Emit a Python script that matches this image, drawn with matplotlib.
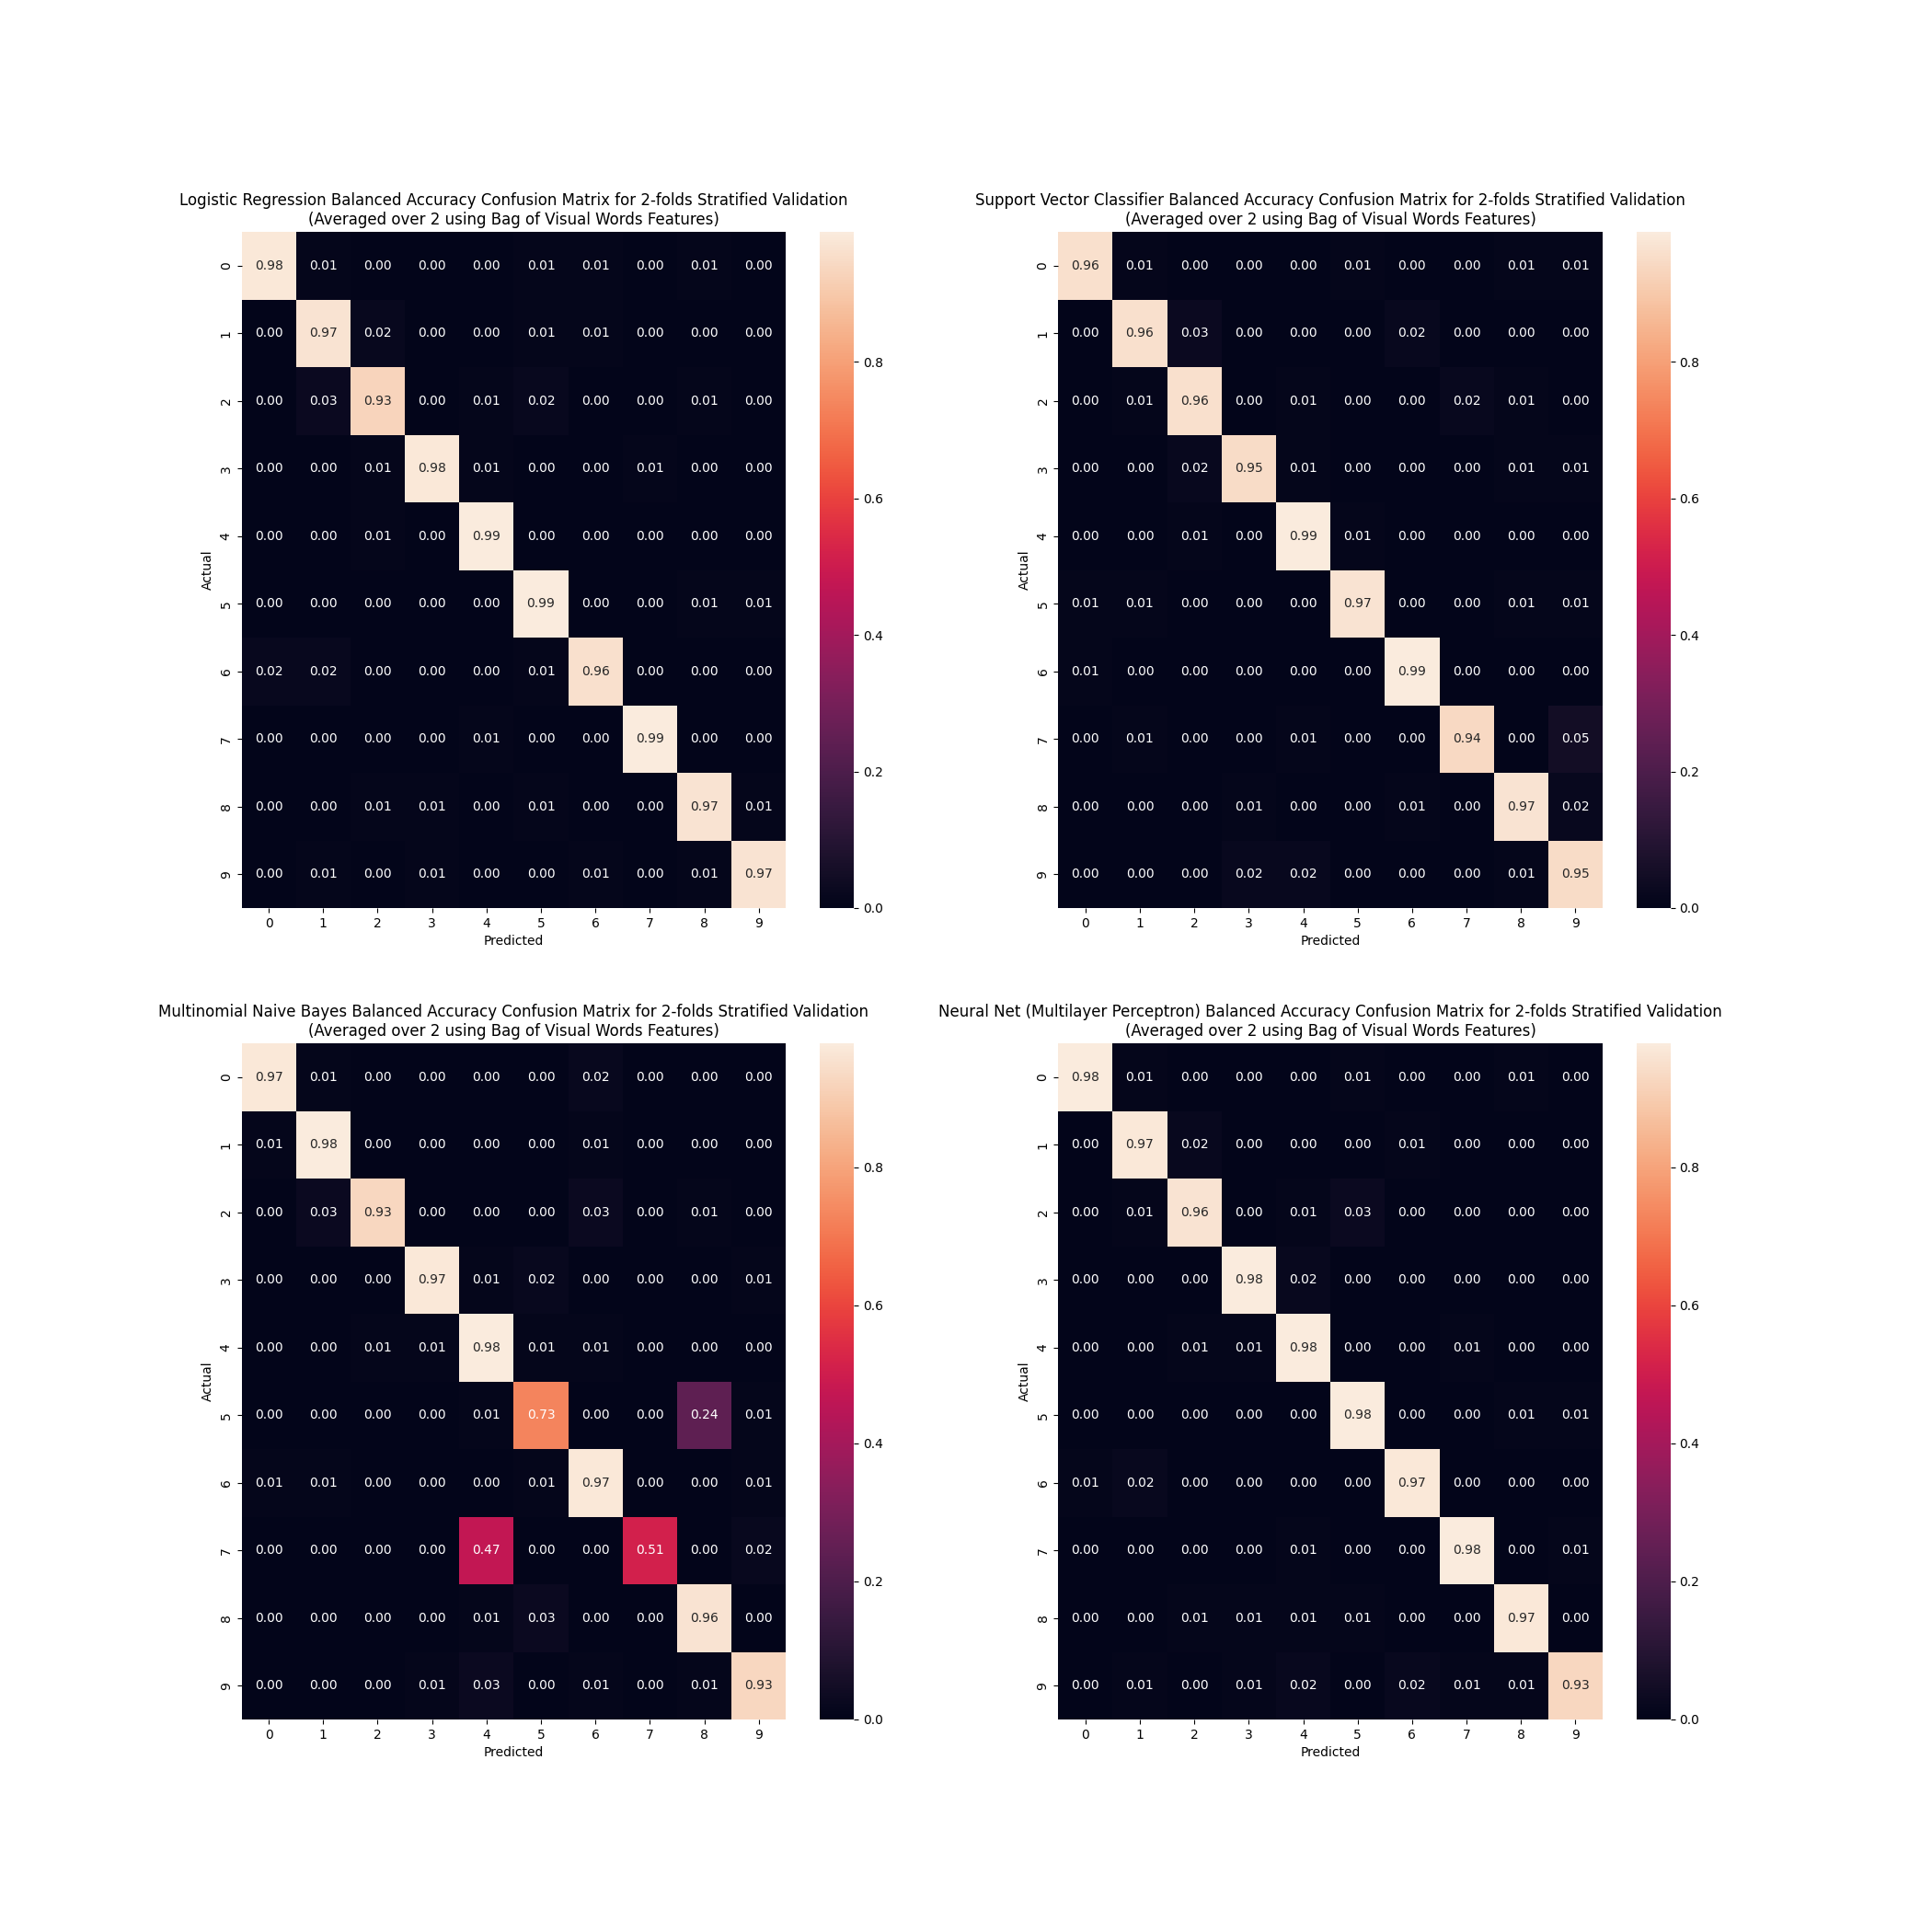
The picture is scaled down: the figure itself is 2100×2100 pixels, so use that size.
import matplotlib
matplotlib.use('Agg')
import matplotlib.pyplot as plt
import numpy as np
import seaborn as sns

classes = [str(i) for i in range(10)]

model_names = ['Logistic Regression',
               'Support Vector Classifier',
               'Multinomial Naive Bayes',
               'Neural Net (Multilayer Perceptron)']

logreg_cm = [
    [0.98, 0.01, 0.00, 0.00, 0.00, 0.01, 0.01, 0.00, 0.01, 0.00],
    [0.00, 0.97, 0.02, 0.00, 0.00, 0.01, 0.01, 0.00, 0.00, 0.00],
    [0.00, 0.03, 0.93, 0.00, 0.01, 0.02, 0.00, 0.00, 0.01, 0.00],
    [0.00, 0.00, 0.01, 0.98, 0.01, 0.00, 0.00, 0.01, 0.00, 0.00],
    [0.00, 0.00, 0.01, 0.00, 0.99, 0.00, 0.00, 0.00, 0.00, 0.00],
    [0.00, 0.00, 0.00, 0.00, 0.00, 0.99, 0.00, 0.00, 0.01, 0.01],
    [0.02, 0.02, 0.00, 0.00, 0.00, 0.01, 0.96, 0.00, 0.00, 0.00],
    [0.00, 0.00, 0.00, 0.00, 0.01, 0.00, 0.00, 0.99, 0.00, 0.00],
    [0.00, 0.00, 0.01, 0.01, 0.00, 0.01, 0.00, 0.00, 0.97, 0.01],
    [0.00, 0.01, 0.00, 0.01, 0.00, 0.00, 0.01, 0.00, 0.01, 0.97],
]

svc_cm = [
    [0.96, 0.01, 0.00, 0.00, 0.00, 0.01, 0.00, 0.00, 0.01, 0.01],
    [0.00, 0.96, 0.03, 0.00, 0.00, 0.00, 0.02, 0.00, 0.00, 0.00],
    [0.00, 0.01, 0.96, 0.00, 0.01, 0.00, 0.00, 0.02, 0.01, 0.00],
    [0.00, 0.00, 0.02, 0.95, 0.01, 0.00, 0.00, 0.00, 0.01, 0.01],
    [0.00, 0.00, 0.01, 0.00, 0.99, 0.01, 0.00, 0.00, 0.00, 0.00],
    [0.01, 0.01, 0.00, 0.00, 0.00, 0.97, 0.00, 0.00, 0.01, 0.01],
    [0.01, 0.00, 0.00, 0.00, 0.00, 0.00, 0.99, 0.00, 0.00, 0.00],
    [0.00, 0.01, 0.00, 0.00, 0.01, 0.00, 0.00, 0.94, 0.00, 0.05],
    [0.00, 0.00, 0.00, 0.01, 0.00, 0.00, 0.01, 0.00, 0.97, 0.02],
    [0.00, 0.00, 0.00, 0.02, 0.02, 0.00, 0.00, 0.00, 0.01, 0.95],
]

mnb_cm = [
    [0.97, 0.01, 0.00, 0.00, 0.00, 0.00, 0.02, 0.00, 0.00, 0.00],
    [0.01, 0.98, 0.00, 0.00, 0.00, 0.00, 0.01, 0.00, 0.00, 0.00],
    [0.00, 0.03, 0.93, 0.00, 0.00, 0.00, 0.03, 0.00, 0.01, 0.00],
    [0.00, 0.00, 0.00, 0.97, 0.01, 0.02, 0.00, 0.00, 0.00, 0.01],
    [0.00, 0.00, 0.01, 0.01, 0.98, 0.01, 0.01, 0.00, 0.00, 0.00],
    [0.00, 0.00, 0.00, 0.00, 0.01, 0.73, 0.00, 0.00, 0.24, 0.01],
    [0.01, 0.01, 0.00, 0.00, 0.00, 0.01, 0.97, 0.00, 0.00, 0.01],
    [0.00, 0.00, 0.00, 0.00, 0.47, 0.00, 0.00, 0.51, 0.00, 0.02],
    [0.00, 0.00, 0.00, 0.00, 0.01, 0.03, 0.00, 0.00, 0.96, 0.00],
    [0.00, 0.00, 0.00, 0.01, 0.03, 0.00, 0.01, 0.00, 0.01, 0.93],
]

mlp_cm = [
    [0.98, 0.01, 0.00, 0.00, 0.00, 0.01, 0.00, 0.00, 0.01, 0.00],
    [0.00, 0.97, 0.02, 0.00, 0.00, 0.00, 0.01, 0.00, 0.00, 0.00],
    [0.00, 0.01, 0.96, 0.00, 0.01, 0.03, 0.00, 0.00, 0.00, 0.00],
    [0.00, 0.00, 0.00, 0.98, 0.02, 0.00, 0.00, 0.00, 0.00, 0.00],
    [0.00, 0.00, 0.01, 0.01, 0.98, 0.00, 0.00, 0.01, 0.00, 0.00],
    [0.00, 0.00, 0.00, 0.00, 0.00, 0.98, 0.00, 0.00, 0.01, 0.01],
    [0.01, 0.02, 0.00, 0.00, 0.00, 0.00, 0.97, 0.00, 0.00, 0.00],
    [0.00, 0.00, 0.00, 0.00, 0.01, 0.00, 0.00, 0.98, 0.00, 0.01],
    [0.00, 0.00, 0.01, 0.01, 0.01, 0.01, 0.00, 0.00, 0.97, 0.00],
    [0.00, 0.01, 0.00, 0.01, 0.02, 0.00, 0.02, 0.01, 0.01, 0.93],
]

matrices = [logreg_cm, svc_cm, mnb_cm, mlp_cm]


def plot_confusion_matrices():
    fig, axes = plt.subplots(2, 2, figsize=(21, 21), dpi=100)

    for ax, name, cm in zip(axes.flat, model_names, matrices):
        sns.heatmap(np.array(cm), annot=True, fmt='.2f', ax=ax,
                    xticklabels=classes, yticklabels=classes)
        ax.set_yticklabels(classes, rotation=90, va='center')
        ax.set_xticklabels(classes, rotation=0)
        ax.set_xlabel('Predicted')
        ax.set_ylabel('Actual')
        ax.set_title(name + ' Balanced Accuracy Confusion Matrix for 2-folds Stratified Validation'
                     '\n(Averaged over 2 using Bag of Visual Words Features)')

    fig.savefig('out.png', dpi=100)


if __name__ == '__main__':
    plot_confusion_matrices()
